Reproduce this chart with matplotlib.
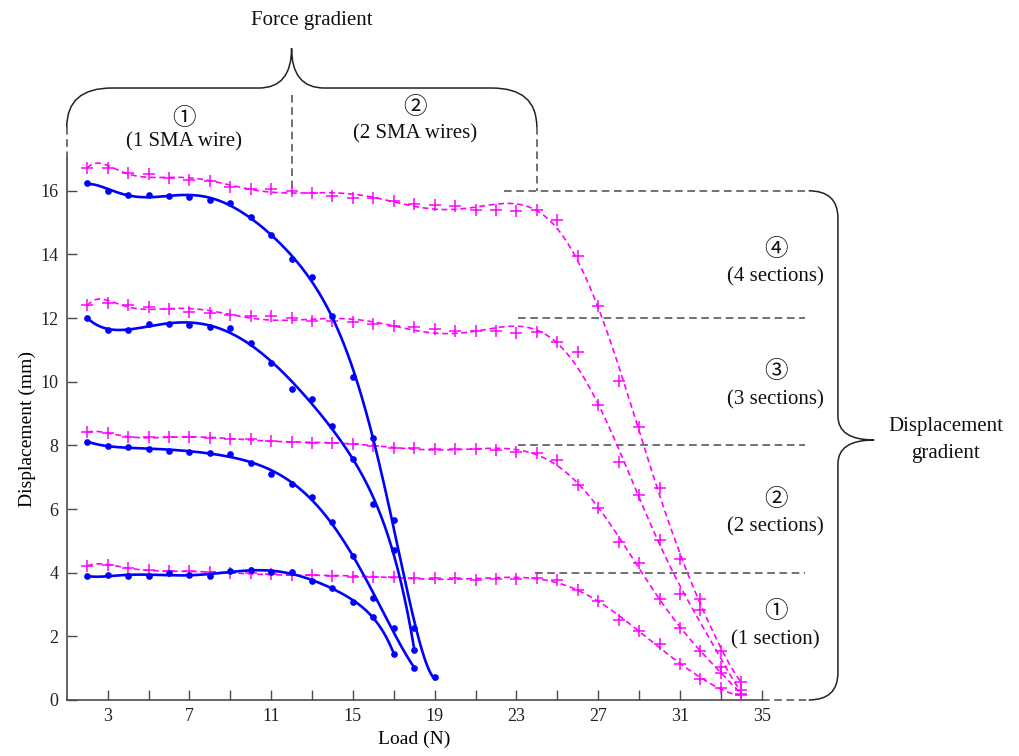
import numpy as np
import matplotlib
matplotlib.use('Agg')
import matplotlib.pyplot as plt
from matplotlib.path import Path
from matplotlib.patches import PathPatch

FONT = ['Liberation Serif', 'DejaVu Serif', 'DejaVu Sans']
CIRC_FONT = ['Noto Sans CJK JP', 'DejaVu Sans']
plt.rcParams['font.family'] = FONT

# ---------------- data ----------------
# blue (measured, solid fit) series
load_b4 = np.arange(2, 18)
disp_b4 = [3.89, 3.92, 3.91, 3.89, 3.98, 3.94, 3.90, 4.05, 4.08, 4.01, 4.02,
           3.75, 3.53, 3.07, 2.62, 1.45]
load_b8 = np.arange(2, 19)
disp_b8 = [8.12, 7.98, 7.94, 7.90, 7.83, 7.80, 7.76, 7.74, 7.46, 7.10, 6.80,
           6.37, 5.58, 4.53, 3.19, 2.25, 0.99]
load_b12 = np.arange(2, 19)
disp_b12 = [12.01, 11.64, 11.64, 11.81, 11.81, 11.78, 11.73, 11.68, 11.21,
            10.60, 9.76, 9.46, 8.62, 7.57, 6.16, 4.71, 1.57]
load_b16 = np.arange(2, 20)
disp_b16 = [16.23, 16.00, 15.87, 15.88, 15.84, 15.80, 15.71, 15.62, 15.18,
            14.61, 13.85, 13.28, 12.07, 10.15, 8.22, 5.65, 2.27, 0.71]

# magenta (dashed fit, + markers) series
load_m = np.arange(2, 35)
disp_m4 = [4.21, 4.24, 4.16, 4.08, 4.04, 4.04, 4.01, 3.98, 3.98, 3.96, 3.92,
           3.92, 3.90, 3.87, 3.86, 3.86, 3.82, 3.84, 3.82, 3.77, 3.81, 3.81,
           3.83, 3.76, 3.47, 3.12, 2.51, 2.17, 1.76, 1.12, 0.66, 0.37, 0.15]
disp_m8 = [8.41, 8.38, 8.27, 8.27, 8.25, 8.25, 8.24, 8.21, 8.19, 8.15, 8.12,
           8.08, 8.06, 8.03, 7.99, 7.93, 7.91, 7.89, 7.88, 7.88, 7.85, 7.78,
           7.75, 7.53, 6.75, 6.04, 4.97, 4.29, 3.18, 2.25, 1.55, 0.86, 0.20]
disp_m12 = [12.41, 12.46, 12.41, 12.36, 12.30, 12.20, 12.17, 12.10, 12.06,
            12.06, 11.99, 11.92, 11.90, 11.87, 11.83, 11.76, 11.73, 11.65,
            11.59, 11.58, 11.58, 11.52, 11.55, 11.26, 10.94, 9.27, 7.48, 6.43,
            5.04, 3.33, 2.83, 1.05, 0.30]
disp_m16 = [16.73, 16.73, 16.55, 16.53, 16.39, 16.34, 16.31, 16.13, 16.07,
            16.07, 16.00, 15.92, 15.84, 15.78, 15.76, 15.69, 15.60, 15.55,
            15.52, 15.41, 15.41, 15.37, 15.41, 15.08, 13.95, 12.38, 10.02,
            8.57, 6.67, 4.42, 3.16, 1.55, 0.58]

section_levels = [4, 8, 12, 16]
section_labels = ['①', '②', '③', '④']
section_texts = ['(1 section)', '(2 sections)', '(3 sections)', '(4 sections)']
xticks_major = list(range(3, 36, 4))
yticks = list(range(0, 17, 2))

BLUE = '#0000ff'
MAG = '#ff00ff'
GREY = '#4a4a4a'

fig = plt.figure(figsize=(10.19, 7.56), dpi=100)
ax = fig.add_axes([0.0655, 0.0741, 0.6820, 0.7156])

def fitline(x, y, deg):
    p = np.polynomial.Polynomial.fit(x, y, deg)
    xf = np.linspace(x[0], x[-1], 400)
    return xf, p(xf)

# magenta series
for d in [disp_m4, disp_m8, disp_m12, disp_m16]:
    xf, yf = fitline(load_m, d, 11)
    ax.plot(xf, yf, color=MAG, lw=1.2, dashes=(3.5, 2.2), zorder=2)
    ax.plot(load_m, d, '+', color=MAG, ms=8.5, mew=1.1, zorder=3)

# blue series
for xs, d, deg in [(load_b4, disp_b4, 7), (load_b8, disp_b8, 6),
                   (load_b12, disp_b12, 7), (load_b16, disp_b16, 7)]:
    xf, yf = fitline(xs, d, deg)
    ax.plot(xf, yf, color=BLUE, lw=1.9, zorder=4)
    ax.plot(xs, d, 'o', color=BLUE, ms=3.8, zorder=5)

ax.set_xlim(1, 35)
ax.set_ylim(0, 17)
ax.set_xticks(xticks_major)
ax.set_xticks(list(range(5, 34, 4)), minor=True)
ax.set_yticks(yticks)
ax.tick_params(which='both', direction='in', length=7, width=1.0, color=GREY,
               labelsize=13, labelcolor='#222222', pad=6)
for s in ['top', 'right']:
    ax.spines[s].set_visible(False)
for s in ['left', 'bottom']:
    ax.spines[s].set_color(GREY)
    ax.spines[s].set_linewidth(1.2)
ax.set_xlabel('Load (N)', fontsize=14, labelpad=4)
ax.set_ylabel('Displacement (mm)', fontsize=14, labelpad=3)

dash_kw = dict(color=GREY, lw=1.1, dashes=(5, 3), clip_on=False, zorder=1)
line_kw = dict(edgecolor='#222222', facecolor='none', lw=1.1, clip_on=False,
               transform=ax.transData)

# ---------- top brace (force gradient) ----------
yb, ytip, yend = 19.23, 20.48, 18.0
xl, xm, xr = 1.0, 12.0, 24.0
verts = [(xl, yend), (xl, yb), (xl + 2.2, yb),
         (xm - 1.6, yb), (xm, yb), (xm, ytip),
         (xm, yb), (xm + 1.6, yb),
         (xr - 2.2, yb), (xr, yb), (xr, yend)]
codes = [Path.MOVETO, Path.CURVE3, Path.CURVE3,
         Path.LINETO, Path.CURVE3, Path.CURVE3,
         Path.CURVE3, Path.CURVE3,
         Path.LINETO, Path.CURVE3, Path.CURVE3]
ax.add_patch(PathPatch(Path(verts, codes), **line_kw))
ax.plot([xl, xl], [yend, 17.0], **dash_kw)
ax.plot([xm, xm], [19.0, 16.1], **dash_kw)
ax.plot([xr, xr], [yend, 16.0], **dash_kw)

tk = dict(ha='center', va='center', fontsize=15, color='#111111', clip_on=False)
ck = dict(ha='center', va='center', fontsize=17, color='#111111', clip_on=False,
          family=CIRC_FONT)
ax.text(13.0, 21.36, 'Force gradient', **tk)
ax.text(6.73, 18.28, '①', **ck)
ax.text(6.73, 17.55, '(1 SMA wire)', **tk)
ax.text(18.03, 18.62, '②', **ck)
ax.text(18.03, 17.8, '(2 SMA wires)', **tk)

# ---------- right brace (displacement gradient) ----------
xv, xc, xtip, ytp = 38.73, 37.3, 40.5, 8.17
verts = [(xc, 16.0), (xv, 16.0), (xv, 15.14),
         (xv, ytp + 0.75), (xv, ytp), (xtip, ytp),
         (xv, ytp), (xv, ytp - 0.75),
         (xv, 0.86), (xv, 0.0), (xc, 0.0)]
ax.add_patch(PathPatch(Path(verts, codes), **line_kw))
ax.plot([22.4, xc], [16, 16], **dash_kw)
ax.plot([23.1, 37.1], [12, 12], **dash_kw)
ax.plot([23.1, 37.1], [8, 8], **dash_kw)
ax.plot([23.9, 37.1], [4, 4], **dash_kw)
ax.plot([35.0, xc], [0, 0], **dash_kw)

lab_y = {16: (14.15, 13.30), 12: (10.31, 9.42), 8: (6.30, 5.43), 4: (2.77, 1.88)}
for lev, sym, txt in zip(section_levels, section_labels, section_texts):
    y1, y2 = lab_y[lev]
    ax.text(35.68, y1, sym, **ck)
    ax.text(35.68, y2, txt, **tk)
ax.text(44.0, 8.59, 'Displacement', **tk)
ax.text(44.0, 7.73, 'gradient', **tk)

fig.savefig('out.png', dpi=100)
